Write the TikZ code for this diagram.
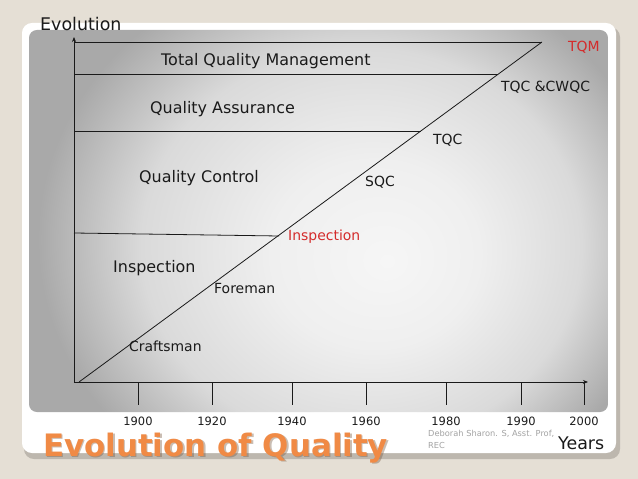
\documentclass[tikz,border=0pt]{standalone}
\usepackage{fontspec}
\setmainfont{DejaVu Sans}
\usetikzlibrary{arrows.meta}
\definecolor{bgbeige}{HTML}{E5DFD5}
\definecolor{cardshadow}{HTML}{BDB7AE}
\definecolor{pcA}{HTML}{F6F6F6}
\definecolor{pcB}{HTML}{EFEFEF}
\definecolor{pcC}{HTML}{DADADA}
\definecolor{pcD}{HTML}{A9A9A9}
\definecolor{txt}{HTML}{1A1A1A}
\definecolor{redtxt}{HTML}{D42B2B}
\definecolor{orangetxt}{HTML}{F08A45}
\definecolor{titleshadow}{HTML}{7A5A40}
\definecolor{credit}{HTML}{A3A3A3}
\pgfdeclareradialshading{panelshade}{\pgfpoint{6bp}{-4bp}}{color(0bp)=(pcA); color(9bp)=(pcB); color(19bp)=(pcC); color(27bp)=(pcD); color(50bp)=(pcD)}
\tikzset{
  axisline/.style={draw=txt, line width=0.8bp},
  gridline/.style={draw=txt, line width=0.8bp},
  ticklabel/.style={font=\fontsize{11.5}{13}\selectfont, text=txt, inner sep=0, anchor=center},
  catlabel/.style={font=\fontsize{16}{19}\selectfont, text=txt, inner sep=0, anchor=west, text height=1.5ex, text depth=0.25ex},
  evlabel/.style={font=\fontsize{14}{16}\selectfont, text=txt, inner sep=0, anchor=west, text height=1.5ex, text depth=0.25ex},
  axlabel/.style={font=\fontsize{17.5}{20}\selectfont, text=txt, inner sep=0, anchor=west, text height=1.5ex, text depth=0.25ex},
  titlestyle/.style={inner sep=0, anchor=base west, font=\fontsize{31}{36}\selectfont\bfseries},
}
\begin{document}
\begin{tikzpicture}[x=1bp, y=-1bp]
\useasboundingbox (0,0) rectangle (638,479);
\fill[bgbeige] (0,0) rectangle (638,479);
% card
\fill[cardshadow, rounded corners=10] (24,27) rectangle (620,459);
\fill[white, rounded corners=10] (22,23) rectangle (616,453);
\begin{scope}
  \clip[rounded corners=8] (29,30) rectangle (608,412);
  \shade[shading=panelshade] (29,-40) rectangle (608,480);
\end{scope}
% axes
\coordinate (O) at (74,382);
\coordinate (ytop) at (74,37);
\coordinate (xend) at (588,382);
\draw[axisline, -{Stealth[length=5bp,width=4bp]}] (O) -- (ytop);
\draw[axisline, -{Stealth[length=5bp,width=4bp]}] (O) -- (xend);
% diagonal
\coordinate (d0) at (79,382);
\coordinate (d1) at (542,42);
\draw[gridline] (d0) -- (d1);
% horizontal lines
\coordinate (h1a) at (74,42);  \coordinate (h1b) at (542,42);
\coordinate (h2a) at (74,74);  \coordinate (h2b) at (498,74);
\coordinate (h3a) at (74,131); \coordinate (h3b) at (421,131);
\coordinate (h4a) at (74,233); \coordinate (h4b) at (279,236);
\draw[gridline] (h1a) -- (h1b);
\draw[gridline] (h2a) -- (h2b);
\draw[gridline] (h3a) -- (h3b);
\draw[gridline] (h4a) -- (h4b);
% ticks
\foreach \x/\lab [count=\i] in {138/1900,212/1920,292/1940,366/1960,446/1980,521/1990,584/2000}{
  \coordinate (t\i a) at (\x,382);
  \coordinate (t\i b) at (\x,405);
  \draw[gridline] (t\i a) -- (t\i b);
  \node[ticklabel] (tl\i) at (\x,421) {\lab};
}
% axis labels
\node[axlabel] (evo) at (40,27) {Evolution};
\node[axlabel] (years) at (558,446) {Years};
% category labels
\node[catlabel] (tqmcat) at (161,62) {Total Quality Management};
\node[catlabel] (qa) at (150,110) {Quality Assurance};
\node[catlabel] (qc) at (139,179) {Quality Control};
\node[catlabel] (insL) at (113,269) {Inspection};
% event labels
\node[evlabel] (craft) at (129,348) {Craftsman};
\node[evlabel] (foreman) at (214,290) {Foreman};
\node[evlabel, text=redtxt] (insR) at (288,237) {Inspection};
\node[evlabel] (sqc) at (365,183) {SQC};
\node[evlabel] (tqc) at (433,141) {TQC};
\node[evlabel] (tqccw) at (501,88) {TQC \&CWQC};
\node[evlabel, text=redtxt] (tqm) at (568,48) {TQM};
% title
\node[titlestyle, text=titleshadow, opacity=0.4] (titlesh) at (44.5,457.5) {Evolution of Quality};
\node[titlestyle, text=orangetxt] (title) at (43,456) {Evolution of Quality};
% credit
\node[inner sep=0, anchor=west, text=credit, font=\fontsize{8.3}{10}\selectfont] (cred1) at (428,434) {Deborah Sharon. S, Asst. Prof,};
\node[inner sep=0, anchor=west, text=credit, font=\fontsize{8.3}{10}\selectfont] (cred2) at (428,445) {REC};
\end{tikzpicture}
\end{document}
